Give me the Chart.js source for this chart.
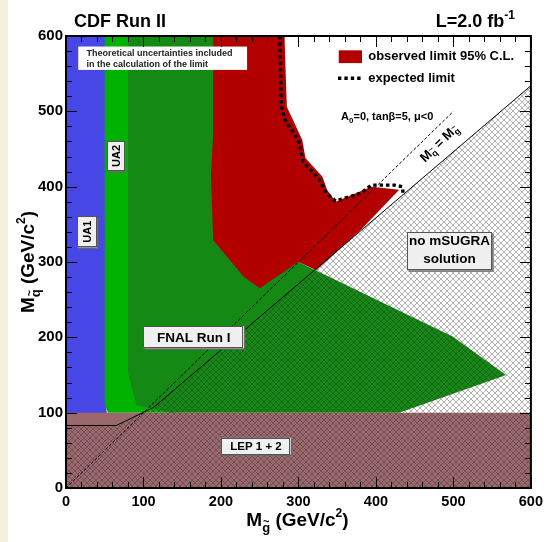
<!DOCTYPE html>
<html>
<head>
<meta charset="utf-8">
<script src="https://cdn.jsdelivr.net/npm/chart.js@4.4.1/dist/chart.umd.min.js"></script>
<style>
  html, body { margin: 0; padding: 0; background: #fff; }
  #plot { display: block; }
</style>
</head>
<body>
<canvas id="plot" width="548" height="542"></canvas>
<script>
// gluino mass (x) / squark mass (y) outlines of each excluded region, GeV/c^2
const ua1Gluino = [0, 0, 52, 52, 56];
const ua1Squark = [0, 600, 600, 112, 0];

const ua2Gluino = [50, 50, 100, 140, 54];
const ua2Squark = [112, 600, 600, 100, 100];

const fnalGluino = [80, 200, 200, 235, 255, 300, 499, 568, 430, 135, 91, 80];
const fnalSquark = [600, 600, 335, 285, 272, 300, 201, 150, 100, 100, 110, 153];

const observedGluino = [190, 282, 285, 305, 309, 331, 337, 348, 394, 430, 381, 323, 300, 250, 229.5, 190, 187, 190];
const observedSquark = [600, 600, 506, 462, 438, 413, 396, 380, 400, 396, 343, 289, 300, 265, 280.5, 329, 415, 470];

const expectedGluino = [276, 278, 283, 300, 306, 326, 336, 348, 380, 394, 424, 434, 435];
const expectedSquark = [600, 506, 488, 462, 433, 411, 391, 381, 391, 402, 402, 400, 392];

const lepGluino = [0, 600, 600, 0];
const lepSquark = [0, 0, 100, 100];

// no mSUGRA solution below this boundary
const boundaryGluino = [0, 65, 113, 600];
const boundarySquark = [83, 83, 107, 534];

const diagGluino = [0, 500];
const diagSquark = [0, 500];

const tickValues = [0, 100, 200, 300, 400, 500, 600];

const FONT = '"Liberation Sans", Arial, Helvetica, sans-serif';
const bold = (s) => 'bold ' + s + 'px ' + FONT;

function pts(xs, ys) {
  return xs.map((x, i) => ({ x: x, y: ys[i] }));
}

function makeHatch() {
  const c = document.createElement('canvas');
  c.width = 6; c.height = 6;
  const g = c.getContext('2d');
  g.strokeStyle = 'rgba(40,40,40,0.45)';
  g.lineWidth = 0.8;
  g.beginPath();
  g.moveTo(0, 0); g.lineTo(6, 6);
  g.moveTo(6, 0); g.lineTo(0, 6);
  g.moveTo(-1, 5); g.lineTo(1, 7);
  g.moveTo(5, -1); g.lineTo(7, 1);
  g.stroke();
  return g.createPattern(c, 'repeat');
}

function region(data, color, order) {
  return {
    data: data, showLine: true, fill: 'shape', backgroundColor: color,
    borderWidth: 0, borderColor: 'rgba(0,0,0,0)', pointRadius: 0, tension: 0, order: order
  };
}

function curve(data, width, dash, order) {
  return {
    data: data, showLine: true, fill: false, borderColor: '#000', borderWidth: width,
    borderDash: dash, pointRadius: 0, tension: 0, order: order, borderCapStyle: 'butt'
  };
}

// rich text: parts drawn left to right, "over" parts are centred over the previous one
function richWidth(ctx, parts) {
  let w = 0;
  for (const p of parts) {
    if (p.over) continue;
    ctx.font = bold(p.size);
    w += ctx.measureText(p.t).width;
  }
  return w;
}
function drawRich(ctx, parts, x, y) {
  let cx = x, lastX = x, lastW = 0;
  ctx.textAlign = 'left';
  ctx.textBaseline = 'alphabetic';
  for (const p of parts) {
    ctx.font = bold(p.size);
    const w = ctx.measureText(p.t).width;
    if (p.over) {
      ctx.fillText(p.t, lastX + (lastW - w) / 2, y + (p.dy || 0));
      continue;
    }
    ctx.fillText(p.t, cx, y + (p.dy || 0));
    lastX = cx; lastW = w; cx += w;
  }
}

function pave(ctx, x1, y1, x2, y2) {
  ctx.fillStyle = '#6a6a6a';
  ctx.fillRect(x1 + 1.5, y1 + 1.5, x2 - x1, y2 - y1);
  ctx.fillStyle = '#f0f0f0';
  ctx.fillRect(x1, y1, x2 - x1, y2 - y1);
  ctx.strokeStyle = '#555';
  ctx.lineWidth = 1;
  ctx.strokeRect(Math.round(x1) + 0.5, Math.round(y1) + 0.5, Math.round(x2 - x1) - 1, Math.round(y2 - y1) - 1);
}

const massTitle = (sub) => [
  { t: 'M', size: 19 },
  { t: sub, size: 13, dy: 6 },
  { t: '~', size: 11, dy: -1, over: true },
  { t: ' (GeV/c', size: 19 },
  { t: '2', size: 12, dy: -9 },
  { t: ')', size: 19 }
];

const decor = {
  id: 'decor',
  beforeDraw(chart) {
    const c = chart.ctx;
    c.save();
    c.fillStyle = '#fff';
    c.fillRect(0, 0, chart.width, chart.height);
    c.fillStyle = '#f5f1da';
    c.fillRect(0, 0, 8, chart.height);
    c.restore();
  },
  afterDatasetsDraw(chart) {
    const c = chart.ctx;
    const xs = chart.scales.x, ys = chart.scales.y;
    const X = (v) => xs.getPixelForValue(v);
    const Y = (v) => ys.getPixelForValue(v);
    const a = chart.chartArea;
    c.save();

    // boxed labels
    pave(c, X(100), Y(215), X(229.5), Y(185.5));
    c.fillStyle = '#000';
    c.font = bold(13.5);
    c.textAlign = 'center';
    c.textBaseline = 'middle';
    c.fillText('FNAL Run I', (X(100) + X(229.5)) / 2, (Y(215) + Y(185.5)) / 2 + 1);

    pave(c, X(200.5), Y(66.5), X(290), Y(44.5));
    c.fillStyle = '#000';
    c.font = bold(11.5);
    c.fillText('LEP 1 + 2', (X(200.5) + X(290)) / 2, (Y(66.5) + Y(44.5)) / 2 + 1);

    pave(c, X(440), Y(340), X(550), Y(289));
    c.fillStyle = '#000';
    c.font = bold(13.5);
    c.fillText('no mSUGRA', (X(440) + X(550)) / 2, Y(327));
    c.fillText('solution', (X(440) + X(550)) / 2, Y(303));

    const rotBox = (x1, x2, y1, y2, txt) => {
      pave(c, X(x1), Y(y1), X(x2), Y(y2));
      c.save();
      c.translate((X(x1) + X(x2)) / 2 + 1, (Y(y1) + Y(y2)) / 2);
      c.rotate(-Math.PI / 2);
      c.fillStyle = '#000';
      c.font = bold(11);
      c.textAlign = 'center';
      c.textBaseline = 'middle';
      c.fillText(txt, 0, 0);
      c.restore();
    };
    rotBox(14.5, 40, 361, 319.5, 'UA1');
    rotBox(53, 75.6, 460.6, 420.8, 'UA2');

    // theory note
    c.fillStyle = '#fff';
    c.fillRect(X(15.8), Y(586), X(233.7) - X(15.8), Y(555) - Y(586));
    c.fillStyle = '#222';
    c.font = bold(9);
    c.textAlign = 'left';
    c.textBaseline = 'alphabetic';
    c.fillText('Theoretical uncertainties included', X(26.5), Y(573.5));
    c.fillText('in the calculation of the limit', X(26.5), Y(558.5));

    // legend
    c.fillStyle = '#b20000';
    c.fillRect(X(352), Y(581), X(382) - X(352), Y(564) - Y(581));
    c.fillStyle = '#000';
    c.font = bold(13);
    c.textBaseline = 'middle';
    c.fillText('observed limit 95% C.L.', X(390), Y(572.5));
    c.fillText('expected limit', X(390), Y(544));
    c.strokeStyle = '#000';
    c.lineWidth = 3.4;
    c.setLineDash([3.4, 3]);
    c.beginPath();
    c.moveTo(X(351), Y(544));
    c.lineTo(X(381), Y(544));
    c.stroke();
    c.setLineDash([]);

    // parameters
    c.fillStyle = '#000';
    drawRich(c, [
      { t: 'A', size: 11 }, { t: '0', size: 8, dy: 3 },
      { t: '=0, tan\u03b2=5, \u03bc<0', size: 11 }
    ], X(355), Y(489));

    // diagonal label
    const ang = Math.atan2(Y(0) - Y(100), X(100) - X(0));
    const dparts = [
      { t: 'M', size: 13 }, { t: 'q', size: 9, dy: 3 }, { t: '~', size: 8, dy: -3, over: true },
      { t: ' = M', size: 13 }, { t: 'g', size: 9, dy: 3 }, { t: '~', size: 8, dy: -3, over: true }
    ];
    c.save();
    c.translate(X(481.7), Y(457.6));
    c.rotate(-ang);
    drawRich(c, dparts, -richWidth(c, dparts) / 2, 4);
    c.restore();

    // ticks on all four sides, pointing inward
    c.strokeStyle = '#000';
    c.lineWidth = 1;
    c.beginPath();
    for (let v = 0; v <= 600; v += 20) {
      const len = v % 100 === 0 ? 11 : 6;
      const px = Math.round(X(v)) + 0.5;
      const py = Math.round(Y(v)) + 0.5;
      c.moveTo(px, a.bottom); c.lineTo(px, a.bottom - len);
      c.moveTo(px, a.top); c.lineTo(px, a.top + len);
      c.moveTo(a.left, py); c.lineTo(a.left + len, py);
      c.moveTo(a.right, py); c.lineTo(a.right - len, py);
    }
    c.stroke();
    c.lineWidth = 2;
    c.strokeRect(a.left, a.top, a.right - a.left, a.bottom - a.top);
    c.restore();
  },
  afterDraw(chart) {
    const c = chart.ctx;
    const a = chart.chartArea;
    c.save();
    c.fillStyle = '#000';
    c.font = bold(18);
    c.textAlign = 'left';
    c.textBaseline = 'alphabetic';
    c.fillText('CDF Run II', 74, 27);

    const lparts = [{ t: 'L=2.0 fb', size: 18 }, { t: '-1', size: 12, dy: -8 }];
    drawRich(c, lparts, 515 - richWidth(c, lparts), 27);

    const xt = massTitle('g');
    drawRich(c, xt, (a.left + a.right) / 2 + 66 - richWidth(c, xt) / 2 - 67, 526);

    const yt = massTitle('q');
    c.translate(33.5, 262);
    c.rotate(-Math.PI / 2);
    drawRich(c, yt, -richWidth(c, yt) / 2, 0);
    c.restore();
  }
};

const hatch = makeHatch();

const config = {
  type: 'scatter',
  data: {
    datasets: [
      region(pts(ua1Gluino, ua1Squark), '#4747e6', 10),
      region(pts(ua2Gluino, ua2Squark), '#00b200', 9),
      region(pts(fnalGluino, fnalSquark), '#148a14', 8),
      region(pts(observedGluino, observedSquark), '#b20000', 7),
      region(pts(lepGluino, lepSquark), '#9b686d', 6),
      region(pts(boundaryGluino.concat([600, 0]), boundarySquark.concat([0, 0])), hatch, 5),
      curve(pts(boundaryGluino, boundarySquark), 1, [], 4),
      curve(pts(diagGluino, diagSquark), 1, [3, 2], 3),
      curve(pts(expectedGluino, expectedSquark), 3.4, [3.4, 3], 2)
    ]
  },
  options: {
    responsive: false,
    animation: false,
    events: [],
    layout: { padding: { top: 36, right: 14, left: 0, bottom: 0 } },
    plugins: { legend: { display: false }, tooltip: { enabled: false } },
    scales: {
      x: {
        type: 'linear', min: 0, max: 600,
        afterFit: (s) => { s.height = 54; },
        afterBuildTicks: (s) => { s.ticks = tickValues.map((v) => ({ value: v })); },
        ticks: { font: { family: FONT, size: 14.5, weight: 'bold' }, color: '#000', padding: 5, maxRotation: 0, autoSkip: false },
        grid: { display: false, drawTicks: false },
        border: { display: false }
      },
      y: {
        type: 'linear', min: 0, max: 600,
        afterFit: (s) => { s.width = 66; },
        afterBuildTicks: (s) => { s.ticks = tickValues.map((v) => ({ value: v })); },
        ticks: { font: { family: FONT, size: 15, weight: 'bold' }, color: '#000', padding: 3, autoSkip: false },
        grid: { display: false, drawTicks: false },
        border: { display: false }
      }
    }
  },
  plugins: [decor]
};

new Chart(document.getElementById('plot'), config);
</script>
</body>
</html>
